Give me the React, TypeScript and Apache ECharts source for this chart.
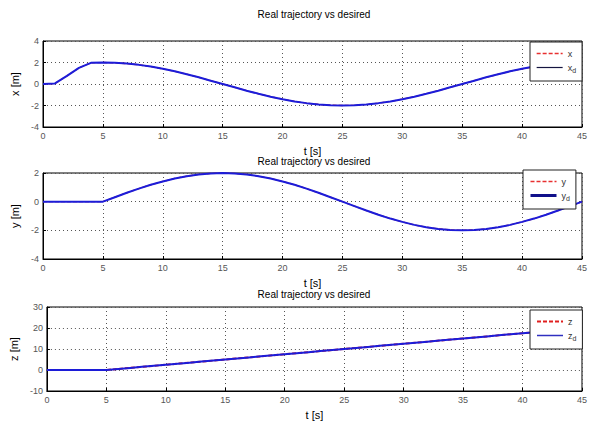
import React, { useEffect, useRef } from "react";
import * as echarts from "echarts";

const timeS = [0, 1, 2, 3, 4, 5, 6, 7, 8, 9, 10, 11, 12, 13, 14, 15, 16, 17, 18, 19, 20, 21, 22, 23, 24, 25, 26, 27, 28, 29, 30, 31, 32, 33, 34, 35, 36, 37, 38, 39, 40, 41, 42, 43, 44, 45];

const xDesired = [0, 0.05, 0.75, 1.5, 1.97, 2.0, 1.97, 1.9, 1.78, 1.62, 1.41, 1.18, 0.91, 0.62, 0.31, 0, -0.31, -0.62, -0.91, -1.18, -1.41, -1.62, -1.78, -1.9, -1.97, -2.0, -1.97, -1.9, -1.78, -1.62, -1.41, -1.18, -0.91, -0.62, -0.31, 0, 0.31, 0.62, 0.91, 1.18, 1.41, 1.62, 1.78, 1.9, 1.97, 2.0];
const xReal = [0, 0.05, 0.75, 1.5, 1.97, 2.0, 1.97, 1.9, 1.78, 1.62, 1.41, 1.18, 0.91, 0.62, 0.31, 0, -0.31, -0.62, -0.91, -1.18, -1.41, -1.62, -1.78, -1.9, -1.97, -2.0, -1.97, -1.9, -1.78, -1.62, -1.41, -1.18, -0.91, -0.62, -0.31, 0, 0.31, 0.62, 0.91, 1.18, 1.41, 1.62, 1.78, 1.9, 1.97, 2.0];

const yDesired = [0, 0, 0, 0, 0, 0, 0.31, 0.62, 0.91, 1.18, 1.41, 1.62, 1.78, 1.9, 1.97, 2.0, 1.97, 1.9, 1.78, 1.62, 1.41, 1.18, 0.91, 0.62, 0.31, 0, -0.31, -0.62, -0.91, -1.18, -1.41, -1.62, -1.78, -1.9, -1.97, -2.0, -1.97, -1.9, -1.78, -1.62, -1.41, -1.18, -0.91, -0.62, -0.31, 0];
const yReal = [0, 0, 0, 0, 0, 0, 0.31, 0.62, 0.91, 1.18, 1.41, 1.62, 1.78, 1.9, 1.97, 2.0, 1.97, 1.9, 1.78, 1.62, 1.41, 1.18, 0.91, 0.62, 0.31, 0, -0.31, -0.62, -0.91, -1.18, -1.41, -1.62, -1.78, -1.9, -1.97, -2.0, -1.97, -1.9, -1.78, -1.62, -1.41, -1.18, -0.91, -0.62, -0.31, 0];

const zDesired = [0, 0, 0, 0, 0, 0, 0.5, 1, 1.5, 2, 2.5, 3, 3.5, 4, 4.5, 5, 5.5, 6, 6.5, 7, 7.5, 8, 8.5, 9, 9.5, 10, 10.5, 11, 11.5, 12, 12.5, 13, 13.5, 14, 14.5, 15, 15.5, 16, 16.5, 17, 17.5, 18, 18.5, 19, 19.5, 20];
const zReal = [0, 0, 0, 0, 0, 0, 0.5, 1, 1.5, 2, 2.5, 3, 3.5, 4, 4.5, 5, 5.5, 6, 6.5, 7, 7.5, 8, 8.5, 9, 9.5, 10, 10.5, 11, 11.5, 12, 12.5, 13, 13.5, 14, 14.5, 15, 15.5, 16, 16.5, 17, 17.5, 18, 18.5, 19, 19.5, 20];

const titleText = "Real trajectory vs desired";
const yAxisNames = ["x [m]", "y [m]", "z [m]"];
const yRanges = [
  { min: -4, max: 4, interval: 2 },
  { min: -4, max: 2, interval: 2 },
  { min: -10, max: 30, interval: 10 },
];

const FONT = "Liberation Sans, Arial, sans-serif";
const BLUE = "#1c1cd8";
const RED = "#e02020";

const pair = (vals: number[]) => timeS.map((t, i) => [t, vals[i]]);

export default function App() {
  const ref = useRef<HTMLDivElement>(null);
  useEffect(() => {
    if (!ref.current) return;
    const chart = echarts.init(ref.current, null, { renderer: "svg" });
    const tops = [41, 173, 307];
    const h = 86;
    const grids = tops.map((t) => ({
      left: 43,
      right: 5,
      top: t,
      height: h,
      show: true,
      borderColor: "#000",
      borderWidth: 1,
      backgroundColor: "#fff",
    }));
    const xAxes = tops.map((_, i) => ({
      type: "value",
      gridIndex: i,
      min: 0,
      max: 45,
      interval: 5,
      name: "t [s]",
      nameLocation: "middle",
      nameGap: 18,
      nameTextStyle: { fontFamily: FONT, fontSize: 11, color: "#000" },
      axisLine: { show: true, onZero: false, lineStyle: { color: "#000" } },
      axisTick: { show: true, inside: true, length: 3, lineStyle: { color: "#000" } },
      axisLabel: { fontFamily: FONT, fontSize: 9, color: "#555", margin: 4 },
      splitLine: { show: true, lineStyle: { color: "#555", type: [1, 3], width: 1 } },
    }));
    const yAxes = tops.map((_, i) => ({
      type: "value",
      gridIndex: i,
      min: yRanges[i].min,
      max: yRanges[i].max,
      interval: yRanges[i].interval,
      name: yAxisNames[i],
      nameLocation: "middle",
      nameGap: 22,
      nameRotate: 90,
      nameTextStyle: { fontFamily: FONT, fontSize: 11, color: "#000" },
      axisLine: { show: true, onZero: false, lineStyle: { color: "#000" } },
      axisTick: { show: true, inside: true, length: 3, lineStyle: { color: "#000" } },
      axisLabel: { fontFamily: FONT, fontSize: 9, color: "#555", margin: 4 },
      splitLine: { show: true, lineStyle: { color: "#555", type: [1, 3], width: 1 } },
    }));
    const titles = [9, 156, 289].map((t) => ({
      text: titleText,
      left: 314,
      textAlign: "center",
      top: t,
      padding: 0,
      textStyle: { fontFamily: FONT, fontSize: 10, fontWeight: "normal", color: "#000" },
    }));
    const mkReal = (name: string, vals: number[], i: number, w: number) => ({
      name,
      type: "line",
      xAxisIndex: i,
      yAxisIndex: i,
      data: pair(vals),
      showSymbol: false,
      symbol: "none",
      lineStyle: { color: RED, width: w, type: [4, 2] },
      itemStyle: { color: RED },
      z: 2,
    });
    const mkDes = (name: string, vals: number[], i: number) => ({
      name,
      type: "line",
      xAxisIndex: i,
      yAxisIndex: i,
      data: pair(vals),
      showSymbol: false,
      symbol: "none",
      lineStyle: { color: BLUE, width: 2 },
      itemStyle: { color: BLUE },
      z: 3,
    });
    const rich = {
      m: { fontFamily: FONT, fontSize: 9, color: "#333" },
      s: { fontFamily: FONT, fontSize: 7, color: "#333", padding: [6, 0, 0, 0] },
    };
    const fmt = (n: string) => (n.endsWith("_d") ? `{m|${n[0]}}{s|d}` : `{m|${n}}`);
    const legendBase = {
      orient: "vertical",
      backgroundColor: "#fff",
      borderColor: "#222",
      borderWidth: 1,
      borderRadius: 0,
      itemWidth: 26,
      itemHeight: 8,
      itemGap: 5,
      padding: [7, 6, 7, 6],
      formatter: fmt,
      itemStyle: { opacity: 0 },
      textStyle: { rich, fontFamily: FONT, fontSize: 9 },
      z: 10,
    };
    const legends = [
      {
        ...legendBase,
        left: 530,
        top: 42,
        data: [
          { name: "x", lineStyle: { color: "#e83030", width: 1.3, type: [4, 2] } },
          { name: "x_d", lineStyle: { color: "#151540", width: 1.2, type: "solid" } },
        ],
      },
      {
        ...legendBase,
        left: 523,
        top: 170,
        data: [
          { name: "y", lineStyle: { color: "#e83030", width: 1.3, type: [4, 2] } },
          { name: "y_d", lineStyle: { color: "#10108a", width: 3, type: "solid" } },
        ],
      },
      {
        ...legendBase,
        left: 530,
        top: 310,
        data: [
          { name: "z", lineStyle: { color: "#e02020", width: 2, type: [4, 2] } },
          { name: "z_d", lineStyle: { color: "#3030c0", width: 1.5, type: "solid" } },
        ],
      },
    ];
    const series = [
      mkReal("x", xReal, 0, 1.3),
      mkDes("x_d", xDesired, 0),
      mkReal("y", yReal, 1, 1.3),
      mkDes("y_d", yDesired, 1),
      mkReal("z", zReal, 2, 2),
      mkDes("z_d", zDesired, 2),
    ];
    chart.setOption({
      animation: false,
      backgroundColor: "#fff",
      title: titles,
      grid: grids,
      xAxis: xAxes,
      yAxis: yAxes,
      legend: legends,
      series,
    });
    return () => chart.dispose();
  }, []);
  return (
    <div
      ref={ref}
      style={{ position: "fixed", left: 0, top: 0, width: 590, height: 421, background: "#fff" }}
    />
  );
}
